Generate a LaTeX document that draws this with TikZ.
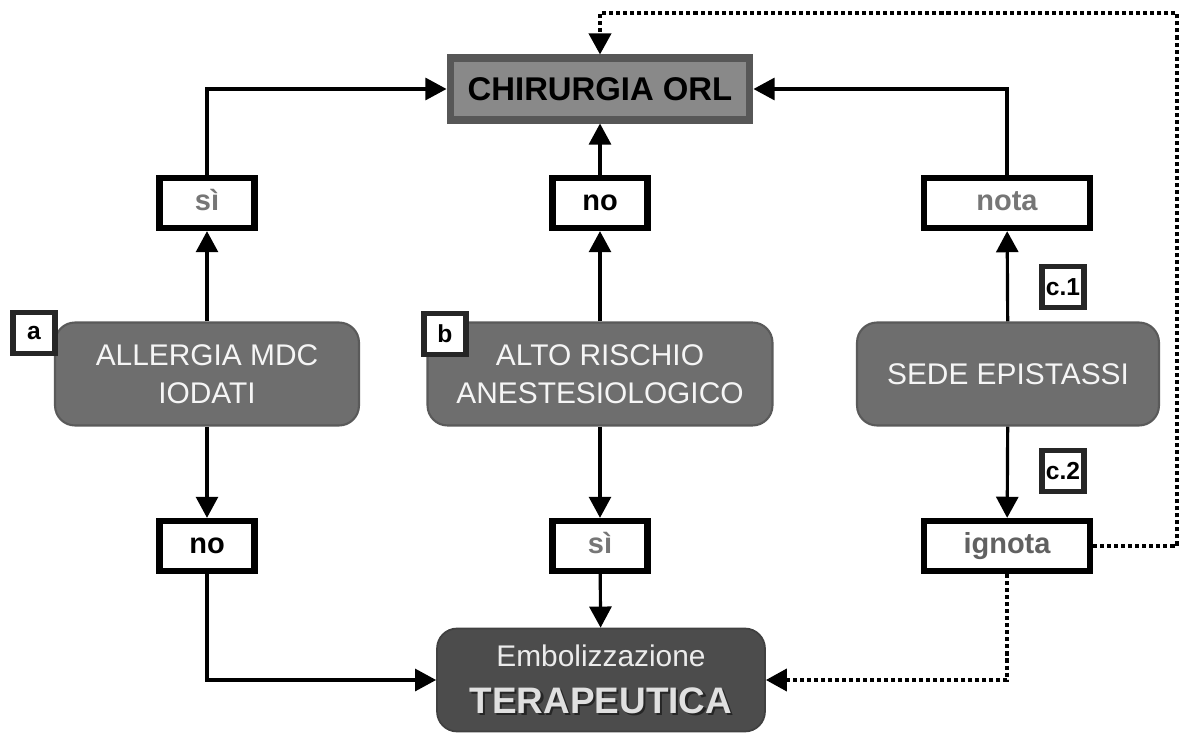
\documentclass[tikz,border=0pt]{standalone}
\usepackage{fontspec}
\setmainfont{Liberation Sans}
\usetikzlibrary{arrows.meta}

\definecolor{chirfill}{HTML}{898989}
\definecolor{chirline}{HTML}{575757}
\definecolor{askfill}{HTML}{6E6E6E}
\definecolor{askline}{HTML}{5A5A5A}
\definecolor{embfill}{HTML}{4C4C4C}
\definecolor{softtext}{HTML}{767676}
\newcommand{\shadowtxt}[1]{\leavevmode\rlap{\kern1.2pt\raisebox{-1.2pt}{\textcolor{black!85}{#1}}}\textcolor{black!12}{#1}}

\begin{document}
\begin{tikzpicture}[x=0.02cm, y=-0.02cm,
  answer/.style={draw=black, line width=3.6pt, fill=white, inner sep=0pt,
    minimum width=1.9cm, minimum height=1cm, text height=8.6pt, text depth=0pt,
    font=\fontsize{16.5}{18}\selectfont\bfseries},
  question/.style={draw=askline, line width=1.2pt, fill=askfill, rounded corners=0.4cm,
    inner sep=0pt, minimum height=2.06cm, align=center, text=black!4,
    font=\fontsize{17}{21.6}\selectfont},
  tag/.style={draw=black!85, line width=3.2pt, fill=white, inner sep=0pt,
    minimum width=0.84cm, minimum height=0.82cm, font=\fontsize{14}{15}\selectfont\bfseries},
  link/.style={line width=1.8pt, -{Triangle[width=12.5pt,length=12pt]}},
  hint/.style={link, line width=2.3pt, dash pattern=on 2.3pt off 1.7pt}]
\useasboundingbox (0,0) rectangle (1181,733);

% top target
\node[draw=chirline, line width=4pt, fill=chirfill, inner sep=0pt, minimum width=6cm,
  minimum height=1.24cm, font=\fontsize{18.7}{20}\selectfont\bfseries] (chir) at (600,89) {CHIRURGIA ORL};

% the three questions
\node[question, minimum width=6.08cm] (allergia) at (207,374) {ALLERGIA MDC\\IODATI};
\node[question, minimum width=6.9cm] (rischio) at (600,374) {ALTO RISCHIO\\ANESTESIOLOGICO};
\node[question, minimum width=6.04cm] (sede) at (1008,374) {SEDE EPISTASSI};

\node[tag] (taga) at (34,333) {a};
\node[tag] (tagb) at (445,334) {b};
\node[tag] (tagc1) at (1063,287) {c.1};
\node[tag] (tagc2) at (1063,471) {c.2};

% answers
\node[answer, text=softtext] (si1) at (207,203) {sì};
\node[answer] (no2) at (600,203) {no};
\node[answer, text=softtext, minimum width=3.32cm] (nota) at (1007,203) {nota};
\node[answer] (no1) at (207,546) {no};
\node[answer, text=softtext] (si2) at (600,546) {sì};
\node[answer, text=black!62, minimum width=3.32cm] (ignota) at (1007,546) {ignota};

% bottom target
\node[draw=black!75, line width=1pt, fill=embfill, rounded corners=0.4cm, inner sep=0pt,
  minimum width=6.56cm, minimum height=2.06cm, align=center, text=black!8,
  font=\fontsize{17}{22}\selectfont] (emb) at (601,680)
  {Embolizzazione\\[4.7pt]{\fontsize{21}{22}\selectfont\bfseries\shadowtxt{TERAPEUTICA}}};

\draw[link] (allergia) -- (si1);
\draw[link] (si1.north) |- (chir.west);
\draw[link] (allergia) -- (no1);
\draw[link] (no1.south) |- (emb.west);

\draw[link] (rischio) -- (no2);
\draw[link] (no2) -- (chir);
\draw[link] (rischio) -- (si2);
\draw[link] (si2) -- (emb);

\draw[link] (sede) -- (nota);
\draw[link] (nota.north) |- (chir.east);
\draw[link] (sede) -- (ignota);

% ignota goes back
\coordinate (corner) at (1177,13);
\draw[hint] (ignota.east) -| (corner) -| (chir.north);
\draw[hint] (ignota.south) |- (emb.east);
\end{tikzpicture}
\end{document}
